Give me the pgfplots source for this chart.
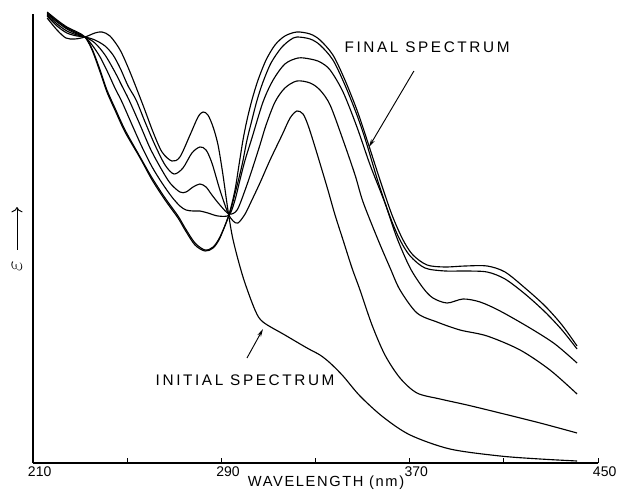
\documentclass[border=0pt]{standalone}
\usepackage{fontspec}
\setmainfont{Liberation Sans}
\newfontfamily\lettering[LetterSpace=17]{Liberation Sans}
\newfontfamily\labelfont[LetterSpace=11]{Liberation Sans}
\usepackage{pgfplots}
\pgfplotsset{compat=1.18}
\usetikzlibrary{arrows.meta}
\tikzset{spec/.style={black, line width=0.85pt, smooth, tension=0.5, mark=none, line join=round}}

\begin{document}
\begin{tikzpicture}
\begin{axis}[
  name=ax,
  scale only axis,
  width=423.75pt, height=336.75pt,
  xmin=210, xmax=450, ymin=0, ymax=449,
  axis x line=bottom, axis y line=left,
  axis line style={-, line width=0.8pt},
  xtick={210,290,370,450},
  minor xtick={250,330,410},
  ytick=\empty,
  tick align=inside,
  major tick length=4pt, minor tick length=4pt,
  every tick/.style={black, line width=0.7pt},
  xticklabel style={font=\fontsize{10.5}{12}\selectfont, anchor=north, inner sep=0pt, yshift=-2.5pt, xshift=5pt},
  /pgf/number format/assume math mode=true,
  clip=false,
]
% initial spectrum
\addplot[spec] coordinates {
(216.0,445) (220.2,433) (224.0,425) (227.8,424) (232.1,426) (236.3,430)
(239.3,431) (242.7,427) (247.0,413) (251.2,391) (256.7,358) (261.0,331)
(264.8,311) (269.0,302) (272.4,306) (276.7,328) (280.1,346) (282.2,351)
(284.3,348) (286.5,336) (288.6,318) (290.7,288) (292.8,253) (295.0,223)
(299.2,186) (304.3,153) (307.7,141) (317.0,128) (326.4,115) (331.9,108)
(336.2,100) (341.7,87) (348.9,67) (358.7,46) (370.2,28) (387.1,14)
(408.4,7) (425.4,4) (441.1,2)
};
% intermediate spectra
\addplot[spec] coordinates {
(216.0,447) (220.2,437) (224.4,430) (228.7,427) (232.1,426) (236.3,423)
(240.6,417) (244.0,408) (247.0,395) (250.4,377) (253.8,363) (257.6,341)
(261.8,318) (266.1,298) (269.9,289) (273.7,295) (277.5,310) (280.9,316)
(283.5,313) (286.0,300) (289.4,273) (292.8,250) (295.0,242) (297.1,240)
(300.1,249) (303.0,263) (306.4,280) (310.7,303) (315.8,328) (319.2,345)
(322.1,352) (324.7,349) (326.8,338) (329.8,316) (334.9,276) (338.3,248)
(341.7,223) (345.5,195) (348.9,173) (354.0,138) (359.5,108) (365.9,85)
(373.1,70) (382.9,64) (394.4,58) (408.4,50) (425.4,40) (441.1,30)
};
\addplot[spec] coordinates {
(216.0,448) (220.2,439) (224.4,432) (228.7,428) (232.1,426) (236.3,420)
(240.6,408) (244.8,391) (247.8,377) (250.8,363) (255.5,338) (259.7,315)
(264.0,296) (268.2,280) (272.4,271) (275.0,271) (278.0,276) (280.9,279)
(283.5,276) (286.0,268) (289.4,258) (293.3,249) (296.7,253) (300.1,273)
(303.0,293) (306.4,318) (309.0,338) (312.8,361) (317.0,375) (322.1,382)
(327.7,380) (331.9,373) (336.2,358) (341.7,323) (346.8,288) (350.2,261)
(356.6,223) (361.7,195) (365.9,173) (373.1,150) (381.6,141) (391.4,133)
(402.9,127) (416.9,113) (429.6,93) (441.1,69)
};
\addplot[spec] coordinates {
(216.0,449) (220.2,441) (224.4,434) (228.7,429) (232.1,426) (235.1,418)
(238.5,406) (241.9,390) (244.8,375) (247.8,361) (252.1,338) (256.3,316)
(260.6,296) (264.8,280) (269.0,266) (272.4,257) (275.0,253) (278.0,252)
(280.9,252) (284.3,250) (288.6,247) (293.3,248) (295.8,263) (297.9,283)
(300.1,303) (303.0,325) (307.7,361) (312.0,383) (317.0,399) (322.6,405)
(327.7,404) (331.9,401) (336.2,393) (341.7,371) (347.6,336) (353.2,298)
(359.5,260) (364.6,225) (370.2,195) (375.7,175) (379.9,165) (385.9,160)
(392.7,164) (399.9,161) (408.4,152) (421.1,135) (431.7,119) (441.1,100)
};
\addplot[spec] coordinates {
(216.0,450) (220.2,442) (224.4,435) (228.7,430) (232.1,426) (235.1,414)
(238.5,393) (241.4,373) (244.8,355) (249.1,333) (255.5,306) (260.6,285)
(266.1,265) (271.6,247) (274.6,235) (278.8,220) (283.1,213) (286.5,216)
(289.4,226) (293.3,248) (296.2,273) (298.8,298) (300.9,323) (303.0,343)
(305.2,363) (307.7,381) (311.1,400) (315.4,415) (319.2,423) (322.1,426)
(327.7,424) (331.9,418) (337.4,403) (342.5,378) (347.6,348) (351.5,321)
(356.6,281) (361.7,246) (365.9,223) (370.2,207) (376.5,195) (385.0,192)
(393.5,192) (402.9,191) (410.5,184) (419.0,169) (427.5,151) (434.7,133)
(441.1,114)
};
% final spectrum
\addplot[spec] coordinates {
(216.0,451) (220.2,443) (224.4,436) (228.7,431) (232.1,426) (235.1,413)
(238.5,391) (241.4,371) (244.8,353) (249.1,331) (255.5,305) (260.6,283)
(266.1,263) (271.6,245) (274.6,233) (278.8,218) (283.1,212) (286.5,215)
(289.4,225) (293.3,249) (295.8,273) (297.5,298) (299.2,323) (300.9,343)
(303.0,363) (305.6,383) (309.0,403) (312.8,418) (317.0,427) (322.1,431)
(327.7,429) (331.9,423) (337.4,408) (342.5,383) (347.6,353) (351.9,323)
(357.4,283) (362.5,248) (367.2,223) (371.4,208) (377.4,198) (385.0,196)
(393.5,197) (402.9,197) (410.5,191) (419.0,175) (427.5,157) (434.7,138)
(441.1,117)
};

% annotations
\node[font=\lettering\fontsize{11.5}{13}\selectfont] at (axis cs:377.4,416) {FINAL SPECTRUM};
\draw[-{Stealth[length=6pt,width=3pt]}, line width=0.7pt] (axis cs:371.8,392) -- (axis cs:352.7,316);
\node[font=\lettering\fontsize{11.5}{13}\selectfont] at (axis cs:300.1,83) {INITIAL SPECTRUM};
\draw[-{Stealth[length=6pt,width=3pt]}, line width=0.7pt] (axis cs:300.9,105) -- (axis cs:307.7,134);

% axis titles
\node[font=\labelfont\fontsize{11}{13}\selectfont] at (axis cs:334.5,-19.5) {WAVELENGTH (nm)};
\node[rotate=90, font=\fontsize{17}{18}\selectfont, inner sep=0pt] at (axis cs:203.2,197) {$\varepsilon$};
\draw[-{To[length=4pt]}, line width=0.7pt] (axis cs:203.2,213) -- (axis cs:203.2,256);
\end{axis}
\pgfresetboundingbox
\useasboundingbox ([xshift=-24.75pt,yshift=-19.5pt]ax.south west) rectangle ([xshift=17.25pt,yshift=10.5pt]ax.north east);
\end{tikzpicture}
\end{document}
